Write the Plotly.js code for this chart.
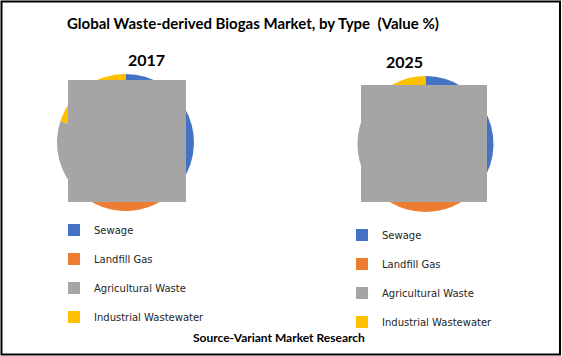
<!DOCTYPE html>
<html>
<head>
<meta charset="utf-8">
<script src="https://cdn.plot.ly/plotly-3.0.1.min.js"></script>
<style>
html,body{margin:0;padding:0;background:#fff;}
#chart{width:562px;height:356px;}
</style>
</head>
<body>
<div id="chart"></div>
<script>
// ---- data ----
const categories = ["Sewage", "Landfill Gas", "Agricultural Waste", "Industrial Wastewater"];
const colors = ["#4472C4", "#ED7D31", "#A5A5A5", "#FFC000"];
const years = ["2017", "2025"];
const values2017 = [37, 25, 18, 20];
const values2025 = [37, 26, 22, 15];
const chartTitle = "Global Waste-derived Biogas Market, by Type  (Value %)";
const sourceText = "Source-Variant Market Research";

const W = 562, H = 356;
const px = v => v / W;
const py = v => 1 - v / H;

// legend labels: extra blank line to match row spacing (second legend uses a distinct blank so entries are not merged)
const legendLabels1 = categories.map(c => c + "<br> ");
const legendLabels2 = categories.map(c => c + "<br>\u00a0");

function pie(labels, values, dom, legendName) {
  return {
    type: "pie",
    labels: labels,
    values: values,
    marker: {colors: colors, line: {width: 0}},
    sort: false,
    direction: "clockwise",
    rotation: 0,
    textinfo: "none",
    hoverinfo: "percent",
    domain: dom,
    legend: legendName
  };
}

const data = [
  pie(legendLabels1, values2017, {x: [px(57), px(194)], y: [py(211), py(74)]}, "legend"),
  pie(legendLabels2, values2025, {x: [px(357), px(494)], y: [py(212), py(76)]}, "legend2")
];

const legendFont = {family: "DejaVu Sans, sans-serif", size: 10, color: "#262626"};
const layout = {
  width: W, height: H,
  margin: {l: 0, r: 0, t: 0, b: 0},
  paper_bgcolor: "#fff",
  showlegend: true,
  legend: {x: px(54), y: py(217), xanchor: "left", yanchor: "top", font: legendFont, valign: "top", bgcolor: "rgba(0,0,0,0)"},
  legend2: {x: px(342), y: py(222), xanchor: "left", yanchor: "top", font: legendFont, valign: "top", bgcolor: "rgba(0,0,0,0)"},
  annotations: [
    {text: "<b>" + chartTitle + "</b>", x: px(252.5), y: py(23), xref: "paper", yref: "paper", yanchor: "middle", showarrow: false, font: {family: "Lato, sans-serif", size: 15, color: "#000"}},
    {text: "<b>" + years[0] + "</b>", x: px(125.5), y: py(59), xref: "paper", yref: "paper", yanchor: "middle", showarrow: false, font: {family: "Lato, sans-serif", size: 16, color: "#000"}},
    {text: "<b>" + years[1] + "</b>", x: px(425), y: py(62), xref: "paper", yref: "paper", yanchor: "middle", showarrow: false, font: {family: "Lato, sans-serif", size: 16, color: "#000"}},
    {text: "<b>" + sourceText + "</b>", x: px(278.5), y: py(337.5), xref: "paper", yref: "paper", yanchor: "middle", showarrow: false, font: {family: "Lato, sans-serif", size: 12, color: "#000"}}
  ],
  shapes: [
    {type: "rect", xref: "paper", yref: "paper", x0: px(68), x1: px(186), y0: py(202), y1: py(80), fillcolor: "#A5A5A5", line: {width: 0}, layer: "above"},
    {type: "rect", xref: "paper", yref: "paper", x0: px(361), x1: px(487), y0: py(202), y1: py(85), fillcolor: "#A5A5A5", line: {width: 0}, layer: "above"},
    {type: "rect", xref: "paper", yref: "paper", x0: px(1.5), x1: px(560), y0: py(354.5), y1: py(1.5), line: {color: "#000", width: 2}, layer: "above"}
  ]
};

Plotly.newPlot("chart", data, layout, {staticPlot: true, displayModeBar: false});
</script>
</body>
</html>
